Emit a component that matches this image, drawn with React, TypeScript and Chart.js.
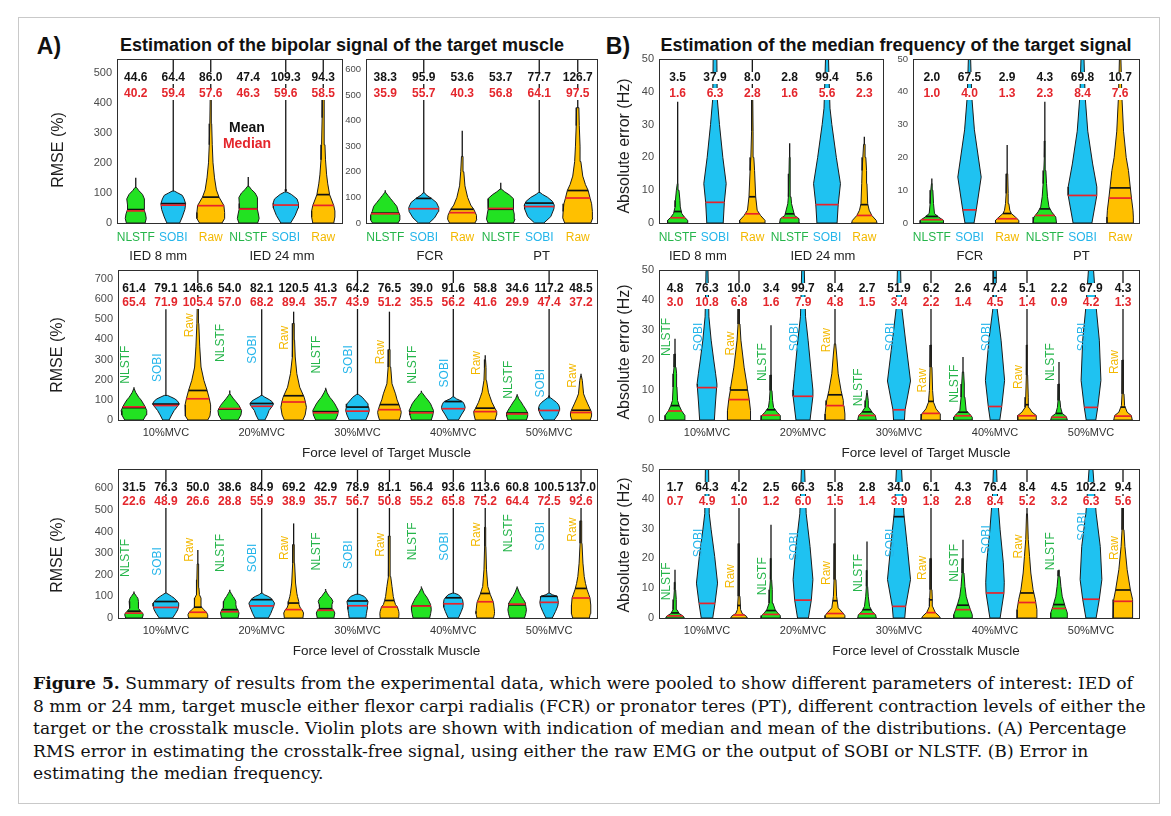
import React, { useEffect, useRef } from 'react';
import { Chart, registerables } from 'chart.js';
Chart.register(...registerables);

// ---------------- categories & labels ----------------
const methodLabels = ['NLSTF', 'SOBI', 'Raw'];
const iedLabels = ['IED 8 mm', 'IED 24 mm'];
const muscleLabels = ['FCR', 'PT'];
const mvcLabels = ['10%MVC', '20%MVC', '30%MVC', '40%MVC', '50%MVC'];

// ---------------- A) RMSE, IED ----------------
const rmseIedMean = [44.6, 64.4, 86.0, 47.4, 109.3, 94.3];
const rmseIedMedian = [40.2, 59.4, 57.6, 46.3, 59.6, 58.5];
const rmseIedMax = [150, 700, 700, 153, 700, 700];
const rmseIedShape: number[][][] = [
  [[0, .25], [15, .28], [30, .26], [45, .22], [60, .22], [80, .24], [95, .18], [108, .08], [118, .02]],
  [[0, .17], [20, .24], [45, .31], [64, .33], [80, .29], [92, .24], [100, .12], [106, .03]],
  [[0, .3], [15, .37], [35, .37], [58, .35], [86, .22], [110, .15], [150, .1], [200, .06], [260, .04], [330, .025], [420, .015]],
  [[0, .25], [15, .29], [30, .27], [47, .24], [65, .24], [85, .25], [100, .18], [112, .08], [122, .02]],
  [[0, .13], [25, .25], [50, .33], [65, .34], [80, .3], [95, .15], [103, .03]],
  [[0, .28], [20, .31], [40, .31], [58, .28], [94, .17], [130, .12], [160, .09], [210, .06], [260, .045], [350, .03], [430, .02]],
];

// ---------------- A) RMSE, muscle ----------------
const rmseMuscleMean = [38.3, 95.9, 53.6, 53.7, 77.7, 126.7];
const rmseMuscleMedian = [35.9, 55.7, 40.3, 56.8, 64.1, 97.5];
const rmseMuscleMax = [128, 700, 360, 157, 700, 700];
const rmseMuscleShape: number[][][] = [
  [[0, .33], [12, .38], [30, .38], [45, .34], [65, .3], [80, .22], [95, .14], [108, .07], [120, .01]],
  [[0, .14], [20, .28], [45, .38], [60, .39], [80, .33], [96, .2], [110, .06], [118, .02]],
  [[0, .33], [15, .38], [30, .37], [53, .3], [70, .22], [100, .14], [145, .07], [200, .04], [260, .02]],
  [[0, .33], [15, .37], [35, .35], [55, .32], [75, .33], [95, .33], [110, .22], [122, .1], [132, .02]],
  [[0, .12], [25, .3], [55, .38], [70, .39], [85, .34], [100, .22], [112, .08], [119, .02]],
  [[0, .34], [20, .39], [45, .38], [75, .36], [97, .32], [127, .27], [150, .2], [183, .13], [240, .08], [300, .06], [380, .04], [450, .03]],
];

// ---------------- B) median frequency, IED ----------------
const mfIedMean = [3.5, 37.9, 8.0, 2.8, 99.4, 5.6];
const mfIedMedian = [1.6, 6.3, 2.8, 1.6, 5.6, 2.3];
const mfIedMax = [37, 60, 60, 24.3, 60, 26.3];
const mfIedShape: number[][][] = [
  [[0, .27], [0.8, .27], [1.8, .18], [2.9, .11], [4.9, .07], [6.9, .06], [10, .035], [12, .01]],
  [[0, .22], [6.3, .25], [12, .3], [20, .21], [30, .12], [38, .06], [50, .05]],
  [[0, .34], [0.8, .34], [2.3, .22], [3.9, .13], [8, .09], [16, .06], [20, .04], [28, .02], [40, .01]],
  [[0, .27], [1.3, .25], [2.3, .13], [5.9, .05], [8, .035], [15, .018], [20, .01]],
  [[0, .27], [5.6, .3], [12, .36], [20, .25], [30, .13], [35, .08], [50, .04]],
  [[0, .34], [0.8, .32], [2.3, .2], [3.9, .13], [5.9, .09], [12, .07], [16, .06], [20, .04], [24, .02]],
];

// ---------------- B) median frequency, muscle ----------------
const mfMuscleMean = [2.0, 67.5, 2.9, 4.3, 69.8, 10.7];
const mfMuscleMedian = [1.0, 4.0, 1.3, 2.3, 8.4, 7.6];
const mfMuscleMax = [13.6, 60, 23.8, 37, 60, 60];
const mfMuscleShape: number[][][] = [
  [[0, .31], [0.8, .31], [1.8, .18], [2.9, .07], [5.9, .045], [10, .027], [12, .01]],
  [[0, .12], [4, .18], [14, .31], [28.4, .13], [38.6, .06], [50, .03]],
  [[0, .31], [0.8, .31], [1.8, .22], [2.9, .11], [3.9, .07], [5.9, .045], [9, .027], [15, .015]],
  [[0, .31], [1.8, .29], [3.4, .18], [4.9, .11], [8, .07], [12, .045], [16, .027], [20, .013], [25, .006]],
  [[0, .25], [8.4, .38], [11, .38], [18, .27], [28, .14], [38.6, .07], [50, .04]],
  [[0, .35], [1.8, .35], [3.9, .34], [7.6, .3], [10.7, .27], [16, .22], [20, .16], [28, .09], [38.6, .045], [50, .02]],
];

// ---------------- A) RMSE vs force of target muscle ----------------
const rmseTargetMean = [61.4, 79.1, 146.6, 54.0, 82.1, 120.5, 41.3, 64.2, 76.5, 39.0, 91.6, 58.8, 34.6, 117.2, 48.5];
const rmseTargetMedian = [65.4, 71.9, 105.4, 57.0, 68.2, 89.4, 35.7, 43.9, 51.2, 35.5, 56.2, 41.6, 29.9, 47.4, 37.2];
const rmseTargetMax = [163, 550, 800, 147, 550, 538, 160, 800, 538, 145, 800, 322, 128, 800, 230];
const rmseTargetShape: number[][][] = [
  [[0, .29], [25, .38], [47, .4], [65, .35], [80, .3], [100, .22], [113, .15], [138, .05], [155, .01]],
  [[0, .1], [25, .18], [47, .26], [65, .35], [80, .42], [95, .36], [105, .28], [115, .15], [122, .05]],
  [[0, .31], [20, .38], [47, .4], [75, .4], [105, .36], [147, .29], [197, .19], [263, .1], [363, .06], [480, .03], [560, .02]],
  [[0, .26], [25, .35], [47, .37], [72, .29], [90, .2], [105, .12], [120, .05], [130, .01]],
  [[0, .1], [25, .18], [47, .23], [68, .33], [80, .37], [92, .32], [100, .25], [115, .08], [122, .02]],
  [[0, .29], [25, .36], [63, .4], [89, .37], [113, .33], [163, .19], [230, .1], [313, .05], [397, .03], [480, .02]],
  [[0, .31], [25, .38], [47, .4], [65, .34], [80, .29], [100, .2], [113, .13], [135, .05], [155, .01]],
  [[0, .26], [25, .33], [47, .37], [64, .35], [80, .33], [100, .22], [113, .15], [127, .03]],
  [[0, .31], [20, .35], [38, .37], [51, .35], [76, .3], [100, .24], [130, .19], [180, .08], [263, .04], [350, .02]],
  [[0, .31], [25, .36], [47, .38], [65, .33], [80, .29], [100, .2], [113, .13], [130, .05], [138, .01]],
  [[0, .16], [25, .25], [50, .35], [63, .37], [75, .35], [88, .31], [98, .2], [105, .1], [115, .02]],
  [[0, .31], [25, .35], [42, .36], [59, .3], [88, .21], [115, .15], [138, .1], [197, .04], [260, .025], [300, .01]],
  [[0, .29], [20, .33], [35, .33], [55, .26], [72, .19], [90, .12], [105, .05], [122, .01]],
  [[0, .16], [25, .27], [47, .32], [60, .33], [75, .3], [88, .23], [100, .13], [110, .05]],
  [[0, .29], [20, .33], [37, .33], [49, .3], [80, .21], [105, .14], [130, .08], [197, .04], [220, .01]],
];

// ---------------- B) median frequency vs force of target muscle ----------------
const mfTargetMean = [4.8, 76.3, 10.0, 3.4, 99.7, 8.4, 2.7, 51.9, 6.2, 2.6, 47.4, 5.1, 2.2, 67.9, 4.3];
const mfTargetMedian = [3.0, 10.8, 6.8, 1.6, 7.9, 4.8, 1.5, 3.4, 2.2, 1.4, 4.5, 1.4, 0.9, 4.2, 1.3];
const mfTargetMax = [27.1, 60, 60, 31.6, 60, 60, 10, 60, 60, 21, 60, 60, 19.3, 60, 60];
const mfTargetShape: number[][][] = [
  [[0, .31], [1.5, .31], [3, .21], [4.8, .13], [6.5, .08], [11, .06], [15.4, .05], [17.6, .03], [22, .015]],
  [[0, .23], [5, .26], [10.8, .3], [12, .31], [15.4, .27], [20, .21], [26.6, .13], [34.4, .06], [50, .03]],
  [[0, .36], [3.1, .36], [6.8, .32], [10, .27], [11, .26], [17.6, .16], [26.6, .06], [32, .03], [40, .015]],
  [[0, .31], [1.5, .29], [2.6, .19], [4.2, .08], [6.5, .05], [9.8, .03], [15, .015]],
  [[0, .22], [7.9, .31], [10, .31], [15.4, .26], [26.6, .16], [34.4, .08], [50, .04]],
  [[0, .31], [2, .31], [4.8, .28], [6.5, .26], [9.8, .19], [15.4, .1], [22, .05], [25.4, .02]],
  [[0, .29], [1.5, .26], [2.6, .16], [4.2, .06], [6.5, .04], [9, .01]],
  [[0, .17], [3.4, .19], [13, .36], [27, .2], [38, .08], [50, .05]],
  [[0, .31], [2, .29], [3.7, .16], [5.9, .08], [9.8, .05], [17.6, .03], [25, .015]],
  [[0, .29], [0.9, .29], [2, .21], [3.1, .1], [7.6, .06], [12, .04], [16, .02]],
  [[0, .15], [4.5, .21], [13.2, .3], [26.6, .19], [37.7, .06], [50, .04]],
  [[0, .29], [1.5, .29], [2.6, .16], [4.2, .06], [7.6, .04], [15, .02], [25, .012]],
  [[0, .26], [1.1, .23], [2.2, .1], [4.2, .05], [6.5, .03], [12, .015]],
  [[0, .15], [4.2, .21], [13.2, .31], [26.6, .26], [37.7, .16], [50, .08]],
  [[0, .29], [1.5, .26], [2.6, .13], [4.8, .05], [8.7, .03], [20, .015]],
];

// ---------------- A) RMSE vs force of crosstalk muscle ----------------
const rmseCrossMean = [31.5, 76.3, 50.0, 38.6, 84.9, 69.2, 42.9, 78.9, 81.1, 56.4, 93.6, 113.6, 60.8, 100.5, 137.0];
const rmseCrossMedian = [22.6, 48.9, 26.6, 28.8, 55.9, 38.9, 35.7, 56.7, 50.8, 55.2, 65.8, 75.2, 64.4, 72.5, 92.6];
const rmseCrossMax = [123, 700, 315, 131, 700, 438, 134, 700, 700, 146, 700, 700, 146, 580, 700];
const rmseCrossShape: number[][][] = [
  [[0, .26], [15, .29], [23, .27], [31, .21], [45, .14], [54, .13], [77, .15], [92, .12], [100, .08], [115, .01]],
  [[0, .21], [20, .3], [38, .37], [55, .4], [69, .4], [80, .34], [92, .26], [100, .18], [108, .1], [115, .02]],
  [[0, .29], [15, .31], [27, .27], [38, .19], [50, .12], [62, .1], [80, .1], [92, .1], [108, .05], [140, .035], [177, .03], [250, .02]],
  [[0, .26], [23, .29], [39, .25], [46, .21], [62, .19], [77, .19], [92, .14], [100, .1], [115, .04], [123, .01]],
  [[0, .21], [20, .28], [38, .33], [56, .38], [69, .4], [85, .33], [92, .29], [100, .2], [108, .08], [115, .02]],
  [[0, .29], [23, .31], [39, .26], [46, .21], [62, .17], [77, .16], [100, .12], [115, .1], [162, .06], [254, .03], [340, .02]],
  [[0, .26], [23, .29], [36, .25], [46, .19], [62, .2], [77, .23], [92, .18], [100, .12], [115, .05], [126, .01]],
  [[0, .26], [20, .28], [40, .3], [57, .31], [77, .33], [90, .27], [100, .21], [110, .05]],
  [[0, .29], [20, .3], [31, .29], [51, .25], [62, .19], [81, .15], [100, .12], [146, .08], [192, .04], [280, .025], [380, .02]],
  [[0, .26], [20, .29], [38, .31], [55, .3], [62, .29], [80, .23], [92, .19], [115, .08], [140, .01]],
  [[0, .16], [30, .25], [50, .3], [66, .31], [85, .29], [94, .25], [108, .16], [115, .03]],
  [[0, .26], [20, .29], [31, .29], [69, .26], [75, .25], [108, .16], [146, .08], [223, .04], [331, .02], [420, .015]],
  [[0, .23], [20, .27], [38, .29], [64, .26], [69, .26], [85, .2], [100, .13], [120, .06], [140, .01]],
  [[0, .1], [30, .2], [55, .27], [72, .29], [90, .27], [100, .26], [108, .1], [115, .02]],
  [[0, .26], [20, .29], [38, .31], [60, .3], [93, .28], [110, .24], [131, .19], [160, .14], [192, .1], [254, .06], [346, .03], [450, .02]],
];

// ---------------- B) median frequency vs force of crosstalk muscle ----------------
const mfCrossMean = [1.7, 64.3, 4.2, 2.5, 66.3, 5.8, 2.8, 34.0, 6.1, 4.3, 76.4, 8.4, 4.5, 102.2, 9.4];
const mfCrossMedian = [0.7, 4.9, 1.0, 1.2, 6.0, 1.5, 1.4, 3.9, 1.8, 2.8, 8.4, 5.2, 3.2, 6.3, 5.6];
const mfCrossMax = [16.2, 60, 60, 31.3, 60, 60, 25.7, 60, 60, 26.3, 60, 60, 16.2, 60, 60];
const mfCrossShape: number[][][] = [
  [[0, .29], [0.6, .26], [1.5, .13], [2.8, .06], [6.2, .04], [9.5, .02], [12, .01]],
  [[0, .18], [4.9, .25], [11.7, .33], [20.7, .24], [29.6, .13], [35, .07], [50, .05]],
  [[0, .26], [0.6, .23], [1.5, .1], [2.8, .05], [7.3, .03], [13, .02], [25, .01]],
  [[0, .31], [0.8, .29], [1.7, .21], [2.8, .13], [5, .06], [9.5, .04], [12.9, .02], [20, .01]],
  [[0, .17], [6, .26], [12.9, .31], [24, .22], [35, .1], [50, .05]],
  [[0, .31], [0.8, .31], [1.9, .23], [3.4, .1], [7.3, .05], [12.9, .03], [25, .012]],
  [[0, .29], [1.1, .27], [2.2, .16], [3.9, .08], [7.3, .04], [10.6, .02], [16, .01]],
  [[0, .18], [3.9, .21], [12.9, .36], [24, .26], [35.2, .15], [50, .08]],
  [[0, .29], [0.6, .26], [1.9, .13], [3.9, .05], [6.7, .04], [9.5, .03], [20, .015]],
  [[0, .29], [1.1, .29], [2.8, .23], [5, .16], [7.3, .1], [10.6, .06], [15.1, .03], [20, .012]],
  [[0, .16], [8.4, .28], [12, .29], [18.5, .26], [29.6, .16], [40.8, .08], [50, .05]],
  [[0, .31], [2.8, .31], [6.2, .26], [9.5, .19], [15.1, .12], [20.7, .08], [26.3, .04], [35, .015]],
  [[0, .26], [1.7, .26], [3.9, .19], [7.3, .1], [10.6, .06], [14, .03], [16, .01]],
  [[0, .16], [6.3, .26], [12.9, .34], [24, .29], [35.2, .16], [50, .06]],
  [[0, .31], [2.8, .31], [6.2, .29], [9.5, .23], [16.2, .13], [24, .06], [29.6, .03], [38, .015]],
];

// ---------------- placement of the rotated method tags (value on y axis) ----------------
const rmseTargetTagY = [275, 260, 470, 383, 350, 408, 325, 300, 337, 275, 233, 283, 200, 183, 220];
const mfTargetTagY = [27.7, 27.7, 25.5, 19.3, 27.7, 26.6, 10.9, 27.7, 13.2, 12.1, 27.7, 14.3, 19.3, 27.7, 19.3];
const rmseCrossTagY = [278, 262, 316, 301, 278, 324, 308, 293, 339, 355, 331, 386, 393, 378, 409];
const mfCrossTagY = [12.3, 25.2, 14, 14, 24, 15.1, 15.1, 25.2, 16.8, 18.5, 26.3, 24, 22.4, 30.7, 23.5];

// ---------------- styles ----------------
const SANS = "'Liberation Sans', Arial, Helvetica, sans-serif";
const NARROW = "'Liberation Sans Narrow', 'Arial Narrow', 'Liberation Sans', Arial, sans-serif";
const SERIF = "'DejaVu Serif', 'Liberation Serif', serif";
const FILL: Record<string, string> = { NLSTF: '#22e222', SOBI: '#1fc2f1', Raw: '#ffc000' };
const TAGC: Record<string, string> = { NLSTF: '#25b54a', SOBI: '#25b5ea', Raw: '#f3b800' };

const PADT = 14, PADR = 10, YW = 100, XH = 50;

interface PanelDef {
  id: string;
  box: number[];
  yMax: number; yStep: number;
  yTitle?: string; yTitlePos?: number[];
  means: number[]; medians: number[]; maxes: number[]; shapes: number[][][];
  mode: 'methods' | 'groups';
  groupLabels: string[]; groupAt: number[];
  tagY?: number[];
  xTitle?: string; xTitleShift?: number;
  tickSize: number;
}

const panels: PanelDef[] = [
  { id: 'a1', box: [117, 59, 342, 223], yMax: 545, yStep: 100, yTitle: 'RMSE (%)', yTitlePos: [59, 150],
    means: rmseIedMean, medians: rmseIedMedian, maxes: rmseIedMax, shapes: rmseIedShape,
    mode: 'methods', groupLabels: iedLabels, groupAt: [0.6, 3.9], tickSize: 11 },
  { id: 'a2', box: [366, 59, 597, 223], yMax: 640, yStep: 100,
    means: rmseMuscleMean, medians: rmseMuscleMedian, maxes: rmseMuscleMax, shapes: rmseMuscleShape,
    mode: 'methods', groupLabels: muscleLabels, groupAt: [1.16, 4.06], tickSize: 9.5 },
  { id: 'b1', box: [659, 59, 883, 223], yMax: 50, yStep: 10, yTitle: 'Absolute error (Hz)', yTitlePos: [625, 146],
    means: mfIedMean, medians: mfIedMedian, maxes: mfIedMax, shapes: mfIedShape,
    mode: 'methods', groupLabels: iedLabels, groupAt: [0.54, 3.89], tickSize: 11 },
  { id: 'b2', box: [913, 59, 1139, 223], yMax: 50, yStep: 10,
    means: mfMuscleMean, medians: mfMuscleMedian, maxes: mfMuscleMax, shapes: mfMuscleShape,
    mode: 'methods', groupLabels: muscleLabels, groupAt: [1.01, 3.97], tickSize: 9.5 },
  { id: 'ma', box: [118, 270, 597, 420], yMax: 745, yStep: 100, yTitle: 'RMSE (%)', yTitlePos: [58, 355],
    means: rmseTargetMean, medians: rmseTargetMedian, maxes: rmseTargetMax, shapes: rmseTargetShape,
    mode: 'groups', groupLabels: mvcLabels, groupAt: [1, 4, 7, 10, 13], tagY: rmseTargetTagY,
    xTitle: 'Force level of Target Muscle', xTitleShift: 29, tickSize: 11 },
  { id: 'mb', box: [659, 270, 1139, 420], yMax: 50, yStep: 10, yTitle: 'Absolute error (Hz)', yTitlePos: [625, 352],
    means: mfTargetMean, medians: mfTargetMedian, maxes: mfTargetMax, shapes: mfTargetShape,
    mode: 'groups', groupLabels: mvcLabels, groupAt: [1, 4, 7, 10, 13], tagY: mfTargetTagY,
    xTitle: 'Force level of Target Muscle', xTitleShift: 27, tickSize: 11 },
  { id: 'ba', box: [118, 469, 597, 618], yMax: 690, yStep: 100, yTitle: 'RMSE (%)', yTitlePos: [58, 555],
    means: rmseCrossMean, medians: rmseCrossMedian, maxes: rmseCrossMax, shapes: rmseCrossShape,
    mode: 'groups', groupLabels: mvcLabels, groupAt: [1, 4, 7, 10, 13], tagY: rmseCrossTagY,
    xTitle: 'Force level of Crosstalk Muscle', xTitleShift: 29, tickSize: 11 },
  { id: 'bb', box: [659, 469, 1139, 618], yMax: 50, yStep: 10, yTitle: 'Absolute error (Hz)', yTitlePos: [625, 545],
    means: mfCrossMean, medians: mfCrossMedian, maxes: mfCrossMax, shapes: mfCrossShape,
    mode: 'groups', groupLabels: mvcLabels, groupAt: [1, 4, 7, 10, 13], tagY: mfCrossTagY,
    xTitle: 'Force level of Crosstalk Muscle', xTitleShift: 27, tickSize: 11 },
];

function widthAt(shape: number[][], v: number): number {
  if (v <= shape[0][0]) return shape[0][1];
  for (let k = 1; k < shape.length; k++) {
    if (v <= shape[k][0]) {
      const [y0, w0] = shape[k - 1];
      const [y1, w1] = shape[k];
      return w0 + (w1 - w0) * (v - y0) / (y1 - y0);
    }
  }
  return 0.03;
}

function boxedText(ctx: CanvasRenderingContext2D, s: string, x: number, y: number, color: string) {
  const w = ctx.measureText(s).width;
  ctx.fillStyle = '#ffffff';
  ctx.fillRect(x - w / 2 - 1, y - 6, w + 2, 12);
  ctx.fillStyle = color;
  ctx.fillText(s, x, y);
}

function buildConfig(p: PanelDef, canvasLeft: number, canvasTop: number): any {
  const n = p.shapes.length;
  const datasets: any[] = [];
  p.shapes.forEach((shape, i) => {
    const m = methodLabels[i % 3];
    const right = shape.map(([y, w]) => ({ x: i + w, y }));
    const left = shape.slice().reverse().map(([y, w]) => ({ x: i - w, y }));
    datasets.push({
      data: [...right, ...left, right[0]], showLine: true, fill: 'shape', tension: 0,
      backgroundColor: FILL[m], borderColor: '#1b1b1b', borderWidth: 1, pointRadius: 0, order: 3,
    });
    const top = shape[shape.length - 1][0];
    datasets.push({
      data: [{ x: i, y: top }, { x: i, y: p.maxes[i] }], showLine: true, fill: false,
      borderColor: '#151515', borderWidth: 1.3, pointRadius: 0, order: 2,
    });
    const wm = widthAt(shape, p.means[i]);
    datasets.push({
      data: [{ x: i - wm, y: p.means[i] }, { x: i + wm, y: p.means[i] }], showLine: true, fill: false,
      borderColor: '#111111', borderWidth: 1.7, pointRadius: 0, order: 1,
    });
    const wd = widthAt(shape, p.medians[i]);
    datasets.push({
      data: [{ x: i - wd, y: p.medians[i] }, { x: i + wd, y: p.medians[i] }], showLine: true, fill: false,
      borderColor: '#e8232b', borderWidth: 1.7, pointRadius: 0, order: 0,
    });
  });

  const tickVals = p.mode === 'methods' ? Array.from({ length: n }, (_, i) => i) : p.groupAt;
  const tickText = p.mode === 'methods' ? tickVals.map((i) => methodLabels[i % 3]) : p.groupLabels;
  const tickCol = p.mode === 'methods' ? tickVals.map((i) => TAGC[methodLabels[i % 3]]) : tickVals.map(() => '#333333');

  const decor = {
    id: 'decor_' + p.id,
    afterDatasetsDraw(chart: any) {
      const ctx: CanvasRenderingContext2D = chart.ctx;
      const a = chart.chartArea;
      const xs = chart.scales.x;
      const ys = chart.scales.y;
      ctx.save();
      ctx.strokeStyle = '#2e2e2e';
      ctx.lineWidth = 1;
      ctx.strokeRect(a.left + 0.5, a.top + 0.5, a.right - a.left, a.bottom - a.top);

      ctx.textAlign = 'center';
      ctx.textBaseline = 'middle';
      ctx.font = `bold 12px ${NARROW}`;
      const meanDy = 19;
      const medDy = p.mode === 'methods' ? 35 : 33;
      p.means.forEach((mv, i) => {
        const px = xs.getPixelForValue(i);
        boxedText(ctx, mv.toFixed(1), px, a.top + meanDy, '#141414');
        boxedText(ctx, p.medians[i].toFixed(1), px, a.top + medDy, '#e4262c');
      });

      if (p.mode === 'groups' && p.tagY) {
        ctx.font = `12px ${NARROW}`;
        p.tagY.forEach((ty, i) => {
          const m = methodLabels[i % 3];
          ctx.save();
          ctx.translate(xs.getPixelForValue(i - 0.27), ys.getPixelForValue(ty));
          ctx.rotate(-Math.PI / 2);
          ctx.fillStyle = TAGC[m];
          ctx.fillText(m, 0, 0);
          ctx.restore();
        });
      }

      if (p.mode === 'methods') {
        ctx.font = `13px ${SANS}`;
        ctx.fillStyle = '#222222';
        p.groupLabels.forEach((g, k) => {
          ctx.fillText(g, xs.getPixelForValue(p.groupAt[k]), a.bottom + 33);
        });
      }

      if (p.xTitle) {
        ctx.font = `13.5px ${SANS}`;
        ctx.fillStyle = '#222222';
        ctx.fillText(p.xTitle, (a.left + a.right) / 2 + (p.xTitleShift || 0), a.bottom + 33);
      }

      if (p.yTitle && p.yTitlePos) {
        ctx.font = `16px ${SANS}`;
        ctx.fillStyle = '#1e1e1e';
        ctx.save();
        ctx.translate(p.yTitlePos[0] - canvasLeft, p.yTitlePos[1] - canvasTop);
        ctx.rotate(-Math.PI / 2);
        ctx.fillText(p.yTitle, 0, 0);
        ctx.restore();
      }
      ctx.restore();
    },
  };

  return {
    type: 'scatter',
    data: { datasets },
    plugins: [decor],
    options: {
      animation: false,
      responsive: false,
      events: [],
      layout: { padding: { top: PADT, right: PADR, left: 0, bottom: 0 } },
      plugins: { legend: { display: false }, tooltip: { enabled: false } },
      scales: {
        x: {
          type: 'linear', min: -0.5, max: n - 0.5,
          grid: { display: false, drawTicks: false }, border: { display: false },
          afterBuildTicks: (s: any) => { s.ticks = tickVals.map((v) => ({ value: v })); },
          afterFit: (s: any) => { s.height = XH; },
          ticks: {
            autoSkip: false, maxRotation: 0, minRotation: 0, padding: p.mode === 'methods' ? 7 : 6,
            font: { family: p.mode === 'methods' ? NARROW : SANS, size: p.mode === 'methods' ? 12 : 11 },
            color: (c: any) => tickCol[c.index] || '#333',
            callback: (_v: any, i: number) => tickText[i],
          },
        },
        y: {
          type: 'linear', min: 0, max: p.yMax,
          grid: { display: false, drawTicks: false }, border: { display: false },
          afterBuildTicks: (s: any) => {
            const t: any[] = [];
            for (let k = 0; k * p.yStep <= p.yMax + 1e-9; k++) t.push({ value: k * p.yStep });
            s.ticks = t;
          },
          afterFit: (s: any) => { s.width = YW; },
          ticks: { padding: 5, font: { family: SANS, size: p.tickSize }, color: '#4a4a4a' },
        },
      },
    },
  };
}

function ViolinPanel({ p }: { p: PanelDef }) {
  const ref = useRef<HTMLCanvasElement>(null);
  const [l, t, r, b] = p.box;
  const cl = l - YW, ct = t - PADT;
  const cw = r - l + YW + PADR, ch = b - t + PADT + XH;
  useEffect(() => {
    const chart = new Chart(ref.current as HTMLCanvasElement, buildConfig(p, cl, ct));
    return () => chart.destroy();
  }, []);
  return (
    <canvas ref={ref} width={cw} height={ch}
      style={{ position: 'absolute', left: cl, top: ct, width: cw, height: ch }} />
  );
}

const txt = (x: number, y: number, s: React.ReactNode, style: React.CSSProperties) => (
  <div style={{ position: 'absolute', left: x, top: y, transform: 'translate(-50%, -50%)', whiteSpace: 'nowrap', lineHeight: 1, ...style }}>{s}</div>
);

const captionHead = 'Figure 5.';
const captionLines: string[] = [
  ' Summary of results from the experimental data, which were pooled to show different parameters of interest: IED of',
  '8 mm or 24 mm, target muscle either flexor carpi radialis (FCR) or pronator teres (PT), different contraction levels of either the',
  'target or the crosstalk muscle. Violin plots are shown with indication of median and mean of the distributions. (A) Percentage',
  'RMS error in estimating the crosstalk-free signal, using either the raw EMG or the output of SOBI or NLSTF. (B) Error in',
  'estimating the median frequency.',
];

function captionSize(): number {
  const c = document.createElement('canvas').getContext('2d');
  if (!c) return 17;
  c.font = `bold 20px ${SERIF}`;
  const w1 = c.measureText(captionHead).width;
  c.font = `20px ${SERIF}`;
  const w2 = c.measureText(captionLines[0]).width;
  return (20 * 1100) / (w1 + w2);
}

export default function App() {
  const cs = captionSize();
  return (
    <div style={{ position: 'absolute', left: 0, top: 0, width: 1171, height: 816, background: '#ffffff', overflow: 'hidden' }}>
      <div style={{ position: 'absolute', left: 18, top: 17, width: 1142, height: 787, border: '1px solid #c9c9c9', boxSizing: 'border-box' }} />
      {txt(49, 46, 'A)', { fontFamily: SANS, fontWeight: 'bold', fontSize: 23, color: '#111' })}
      {txt(342, 45, 'Estimation of the bipolar signal of the target muscle', { fontFamily: SANS, fontWeight: 'bold', fontSize: 18, color: '#111' })}
      {txt(618, 46, 'B)', { fontFamily: SANS, fontWeight: 'bold', fontSize: 23, color: '#111' })}
      {txt(896, 45, 'Estimation of the median frequency of the target signal', { fontFamily: SANS, fontWeight: 'bold', fontSize: 18, color: '#111' })}
      {panels.map((p) => <ViolinPanel key={p.id} p={p} />)}
      {txt(247, 127, 'Mean', { fontFamily: SANS, fontWeight: 'bold', fontSize: 14, color: '#111' })}
      {txt(247, 143, 'Median', { fontFamily: SANS, fontWeight: 'bold', fontSize: 14, color: '#e4262c' })}
      {captionLines.map((c, k) => (
        <div key={k} style={{ position: 'absolute', left: 33, top: 672 + k * 22.5, whiteSpace: 'pre', lineHeight: '22px',
          fontFamily: SERIF, fontSize: cs, color: '#111' }}>
          {k === 0 ? <b>{captionHead}</b> : null}{c}
        </div>
      ))}
    </div>
  );
}
